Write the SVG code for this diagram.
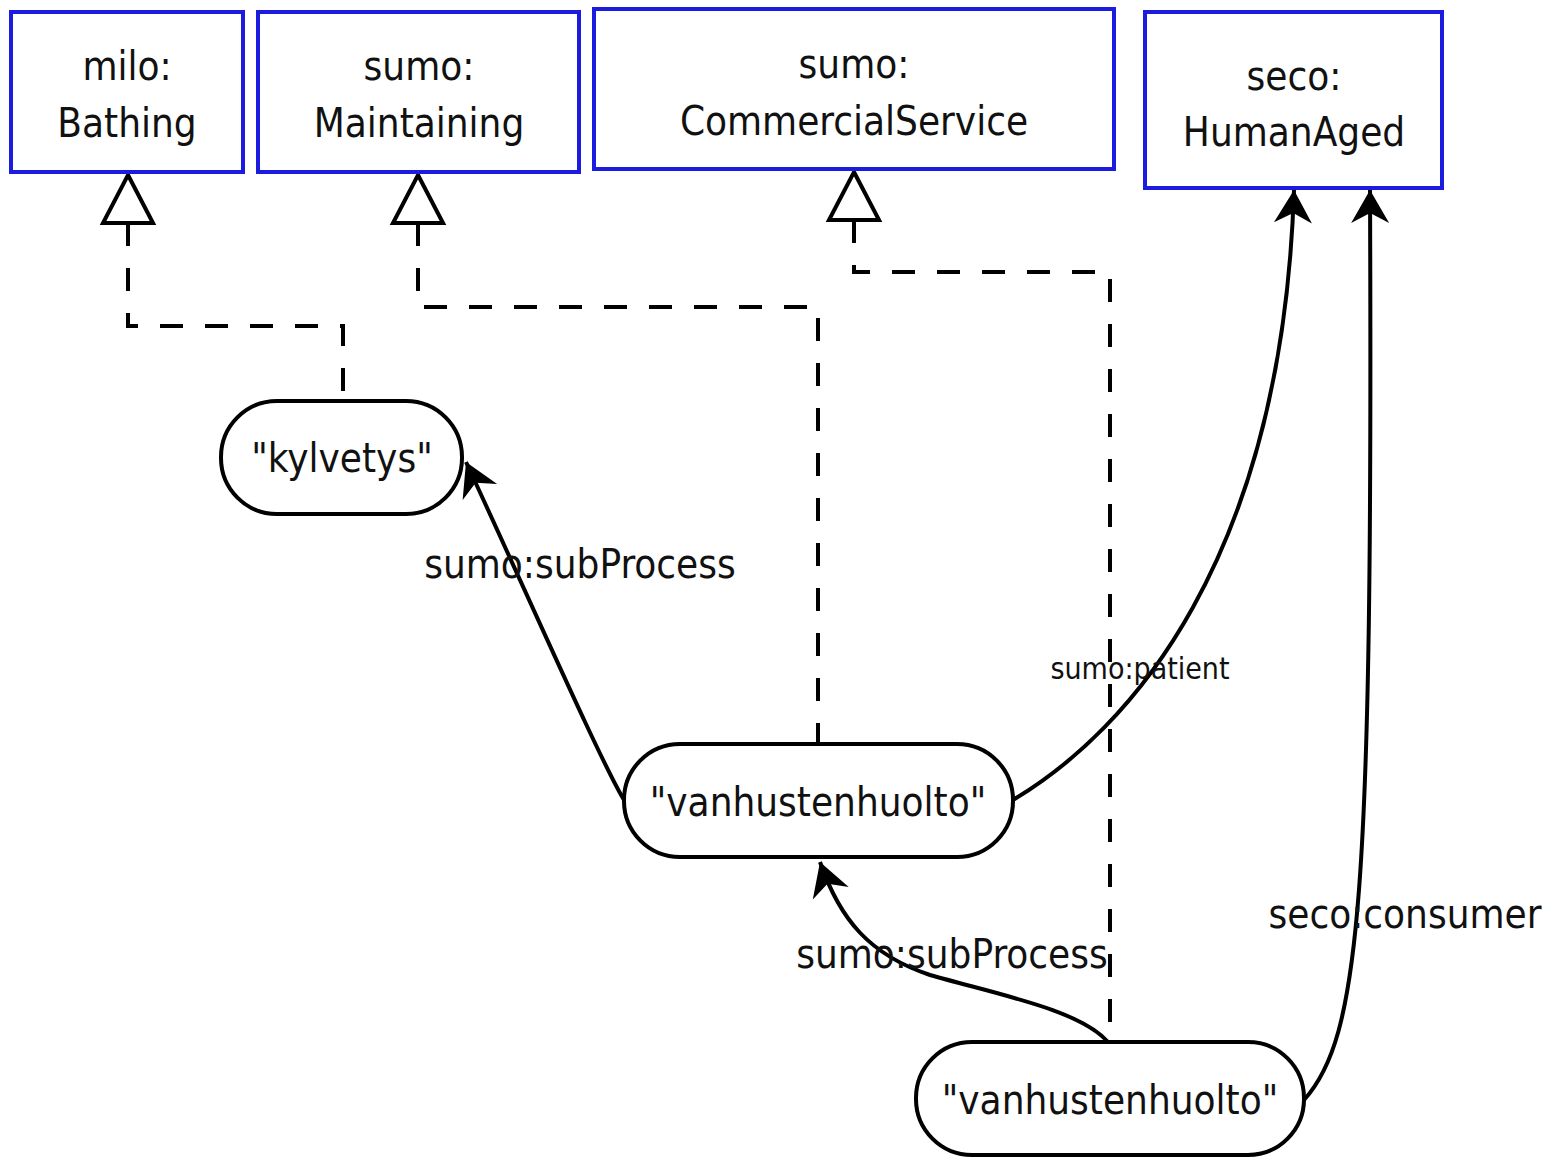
<svg xmlns="http://www.w3.org/2000/svg" width="1563" height="1157" viewBox="0 0 1563 1157">
<style>
  .cls rect { fill: #ffffff; stroke: #1c1ce0; stroke-width: 4; }
  .lit rect { fill: #ffffff; stroke: #000000; stroke-width: 4; }
  text { font-family: "DejaVu Sans Condensed", "DejaVu Sans", sans-serif; font-stretch: condensed; fill: #111111; text-anchor: middle; }
  .nt { font-size: 40px; }
  .el { font-size: 40px; }
  .els { font-size: 30px; }
  .dash { fill: none; stroke: #000; stroke-width: 4; stroke-dasharray: 23 22; marker-start: url(#gen); }
  .rel { fill: none; stroke: #000; stroke-width: 4; marker-end: url(#arr); }
</style>
<defs>
  <marker id="gen" markerUnits="userSpaceOnUse" viewBox="-54 -30 60 60" markerWidth="60" markerHeight="60" refX="0" refY="0" orient="auto" overflow="visible">
    <path d="M-48 0 L0 -25 L0 25 Z" fill="#ffffff" stroke="#000000" stroke-width="4" stroke-dasharray="none"/>
  </marker>
  <marker id="arr" markerUnits="userSpaceOnUse" viewBox="-34 -20 36 40" markerWidth="36" markerHeight="40" refX="0" refY="0" orient="auto" overflow="visible">
    <path d="M0 0 L-33 -19 L-23 0 L-33 19 Z" fill="#000000"/>
  </marker>
</defs>
<rect width="1563" height="1157" fill="#ffffff"/>

<g id="connectors">
  <path class="dash" d="M128 223 V326 H343 V401"/>
  <path class="dash" d="M418 223 V307 H818 V744"/>
  <path class="dash" d="M854 220 V272 H1110 V1042"/>
  <path class="rel" d="M624 800 C600 760 530 600 466 462"/>
  <path class="rel" d="M1108 1042 C1080 1010 1000 995 930 975 C870 955 840 920 820 862"/>
  <path class="rel" d="M1013 800 C1130 730 1282 560 1294 190"/>
  <path class="rel" d="M1304 1100 C1360 1038 1373 900 1370 190"/>
  <text class="el" x="580" y="578">sumo:subProcess</text>
  <text class="el" x="952" y="968">sumo:subProcess</text>
  <text class="els" x="1140" y="679">sumo:patient</text>
  <text class="el" x="1405" y="928">seco:consumer</text>
</g>

<g id="milo-Bathing" class="cls">
  <rect x="11" y="12" width="232" height="160"/>
  <text class="nt" x="127" y="80">milo:</text>
  <text class="nt" x="127" y="137">Bathing</text>
</g>
<g id="sumo-Maintaining" class="cls">
  <rect x="258" y="12" width="321" height="160"/>
  <text class="nt" x="419" y="80">sumo:</text>
  <text class="nt" x="419" y="137">Maintaining</text>
</g>
<g id="sumo-CommercialService" class="cls">
  <rect x="594" y="9" width="520" height="160"/>
  <text class="nt" x="854" y="78">sumo:</text>
  <text class="nt" x="854" y="135">CommercialService</text>
</g>
<g id="seco-HumanAged" class="cls">
  <rect x="1145" y="12" width="297" height="176"/>
  <text class="nt" x="1294" y="90">seco:</text>
  <text class="nt" x="1294" y="146">HumanAged</text>
</g>

<g id="kylvetys" class="lit">
  <rect x="221" y="401" width="241" height="113" rx="56" ry="56"/>
  <text class="nt" x="342" y="472">"kylvetys"</text>
</g>
<g id="vanhustenhuolto-1" class="lit">
  <rect x="624" y="744" width="389" height="113" rx="56" ry="56"/>
  <text class="nt" x="818" y="816">"vanhustenhuolto"</text>
</g>
<g id="vanhustenhuolto-2" class="lit">
  <rect x="916" y="1042" width="388" height="113" rx="56" ry="56"/>
  <text class="nt" x="1110" y="1114">"vanhustenhuolto"</text>
</g>
</svg>
